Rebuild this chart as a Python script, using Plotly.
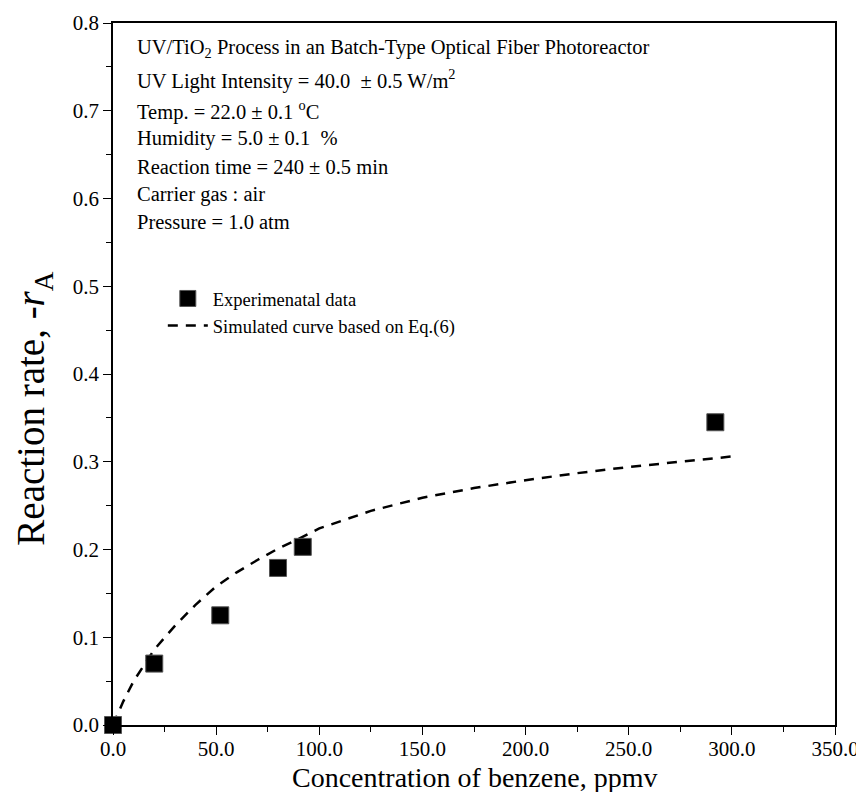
import plotly.graph_objects as go

# Experimental data
conc_exp = [0.0, 20.0, 52.0, 80.0, 92.0, 292.0]
rate_exp = [0.0, 0.070, 0.125, 0.179, 0.203, 0.345]

# Simulated curve
conc_sim = [0, 5, 10, 20, 30, 40, 50, 60, 70, 80, 90, 100, 125, 150, 175, 200, 225, 250, 275, 300]
rate_sim = [0.0, 0.027, 0.050, 0.086, 0.113, 0.137, 0.158, 0.174, 0.188, 0.201, 0.212, 0.224,
            0.244, 0.259, 0.270, 0.279, 0.287, 0.294, 0.300, 0.306]

x_ticks = [0, 50, 100, 150, 200, 250, 300, 350]
y_ticks = [0.0, 0.1, 0.2, 0.3, 0.4, 0.5, 0.6, 0.7, 0.8]

info_lines = [
    "UV/TiO<sub>2</sub> Process in an Batch-Type Optical Fiber Photoreactor",
    "UV Light Intensity = 40.0  ± 0.5 W/m<sup>2</sup>",
    "Temp. = 22.0 ± 0.1 <sup>o</sup>C",
    "Humidity = 5.0 ± 0.1  %",
    "Reaction time = 240 ± 0.5 min",
    "Carrier gas : air",
    "Pressure = 1.0 atm",
]
info_y = [0.963, 0.919, 0.876, 0.835, 0.795, 0.755, 0.717]

x_title = "Concentration of benzene, ppmv"
y_title = "Reaction rate, -<i>r</i><sub>A</sub>"

SERIF = "Liberation Serif"

fig = go.Figure()
fig.add_trace(go.Scatter(
    x=conc_sim, y=rate_sim, mode="lines",
    name="Simulated curve based on Eq.(6)",
    line=dict(color="black", width=2.5, dash="10px,8px"),
))
fig.add_trace(go.Scatter(
    x=conc_exp, y=rate_exp, mode="markers",
    name="Experimenatal data",
    marker=dict(symbol="square", size=17, color="black",
                line=dict(color="#555555", width=1)),
    cliponaxis=False,
))

for txt, yy in zip(info_lines, info_y):
    fig.add_annotation(text=txt, x=0.030, y=yy, xref="paper", yref="paper",
                       xanchor="left", yanchor="middle", showarrow=False,
                       font=dict(family=SERIF, size=20.5, color="black"))

# axis titles
fig.add_annotation(text=x_title, x=0.5, y=-0.0745, xref="paper", yref="paper",
                   xanchor="center", yanchor="middle", showarrow=False,
                   font=dict(family=SERIF, size=28, color="black"))
fig.add_annotation(text=y_title, x=-0.11, y=0.45, xref="paper", yref="paper",
                   xanchor="center", yanchor="middle", showarrow=False, textangle=-90,
                   font=dict(family=SERIF, size=39, color="black"))

axis_common = dict(
    showgrid=False, zeroline=False, showline=True, linecolor="black", linewidth=1.5,
    mirror=True, ticks="outside", ticklen=8, tickcolor="black", tickwidth=1.2,
    tickfont=dict(family=SERIF, size=21, color="black"), automargin=False,
)

fig.update_layout(
    width=856, height=784,
    margin=dict(l=105, r=29, t=15, b=67),
    paper_bgcolor="white", plot_bgcolor="white",
    showlegend=True,
    legend=dict(x=0.069, y=0.634, xanchor="left", yanchor="top",
                traceorder="reversed", bgcolor="rgba(0,0,0,0)",
                font=dict(family=SERIF, size=18.5, color="black"),
                tracegroupgap=0, itemwidth=40),
    xaxis=dict(range=[0, 350], tickvals=x_ticks,
               ticktext=[f"{v:.1f}" for v in x_ticks],
               ticklabelstandoff=-4,
               minor=dict(ticks="outside", dtick=25, ticklen=5, tickcolor="black"),
               **axis_common),
    yaxis=dict(range=[0, 0.8], tickvals=y_ticks,
               ticktext=[f"{v:.1f}" for v in y_ticks],
               minor=dict(ticks="outside", dtick=0.05, ticklen=5, tickcolor="black"),
               **axis_common),
)

fig.write_html("out.html")
